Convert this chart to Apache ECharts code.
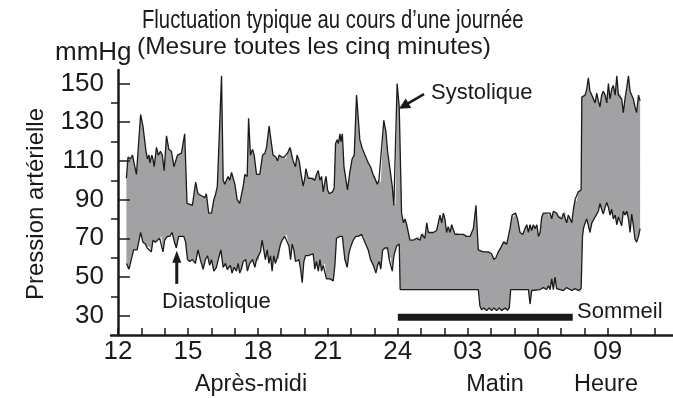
<!DOCTYPE html>
<html>
<head>
<meta charset="utf-8">
<script src="https://cdn.jsdelivr.net/npm/echarts@6/dist/echarts.min.js"></script>
<style>
  html, body { margin: 0; padding: 0; background: #fff; }
  #chart { width: 673px; height: 398px; }
</style>
</head>
<body>
<div id="chart"></div>
<script>
// Time is counted in hours from 12:00 (noon); 12 = midnight, 21 = 09:00 next morning.
const hourTicks = [0, 3, 6, 9, 12, 15, 18, 21];
const hourLabels = ['12', '15', '18', '21', '24', '03', '06', '09'];
const pressureMajor = [30, 50, 70, 90, 110, 130, 150];
const pressureMinor = [40, 60, 80, 100, 120, 140];

// Systolic readings [hour, mmHg]
const systolic = [
  [0.36,101],[0.43,112],[0.53,111],[0.62,113],[0.79,103],[0.97,134],[1.07,128],[1.19,116],[1.26,111],[1.33,113],
  [1.37,109],[1.45,113],[1.50,111],[1.55,107],[1.65,117],[1.73,113],[1.82,115],[1.90,113],[1.98,105],[2.08,123],
  [2.18,116],[2.29,115],[2.40,107],[2.55,113],[2.72,114],[2.86,124],[2.96,88],[3.19,87],[3.33,99],[3.43,93],
  [3.58,92],[3.72,91],[3.79,93],[3.89,83],[4.01,83],[4.11,90],[4.19,93],[4.26,97],[4.44,154],[4.51,100],
  [4.58,98],[4.65,100],[4.72,102],[4.79,100],[4.87,104],[5.01,98],[5.11,90],[5.22,88],[5.37,97],[5.44,103],
  [5.54,102],[5.60,132],[5.68,113],[5.77,116],[5.84,113],[5.94,103],[6.08,103],[6.20,113],[6.30,114],[6.37,117],
  [6.48,128],[6.58,119],[6.65,113],[6.77,112],[6.84,110],[6.91,113],[7.01,112],[7.13,112],[7.20,111],[7.27,114],
  [7.37,117],[7.44,116],[7.51,110],[7.61,107],[7.68,113],[7.77,110],[7.84,104],[7.94,97],[8.01,101],[8.06,106],
  [8.16,101],[8.23,102],[8.30,101],[8.37,102],[8.44,100],[8.51,103],[8.59,105],[8.66,100],[8.73,102],[8.80,94],
  [8.87,99],[8.92,102],[8.99,95],[9.06,93],[9.13,94],[9.20,94],[9.27,96],[9.33,119],[9.40,121],[9.45,119],
  [9.52,124],[9.56,120],[9.62,124],[9.69,107],[9.84,95],[9.94,104],[10.04,111],[10.13,113],[10.23,144],[10.37,121],
  [10.46,117],[10.59,113],[10.73,109],[10.83,107],[10.94,103],[11.02,102],[11.12,98],[11.19,100],[11.27,99],[11.40,131],
  [11.49,125],[11.56,115],[11.66,106],[11.76,97],[11.83,87],[11.90,88],[11.97,150],[12.06,138],[12.16,83],[12.24,78],
  [12.31,80],[12.38,77],[12.52,69],[12.66,69],[12.80,70],[12.88,71],[12.95,69],[13.02,72],[13.09,73],[13.16,70],
  [13.24,78],[13.31,73],[13.38,73],[13.52,73],[13.66,74],[13.81,82],[13.88,78],[13.95,83],[14.02,80],[14.09,73],
  [14.16,76],[14.24,73],[14.31,77],[14.45,72],[14.52,73],[14.67,72],[14.81,72],[14.95,71],[15.10,71],[15.24,75],
  [15.35,87],[15.45,64],[15.66,63],[15.88,63],[16.02,62],[16.12,59],[16.21,60],[16.31,63],[16.41,65],[16.53,68],
  [16.60,69],[16.67,67],[16.74,71],[16.81,75],[16.90,82],[16.97,81],[17.05,83],[17.13,80],[17.24,73],[17.36,72],
  [17.45,75],[17.53,77],[17.60,73],[17.67,77],[17.74,74],[17.81,77],[17.88,75],[17.96,77],[18.03,71],[18.10,73],
  [18.17,81],[18.24,83],[18.38,83],[18.46,82],[18.53,83],[18.60,80],[18.67,84],[18.74,83],[18.81,83],[18.89,81],
  [18.96,82],[19.03,80],[19.10,83],[19.17,84],[19.24,78],[19.31,82],[19.39,80],[19.46,78],[19.53,85],[19.60,90],
  [19.67,89],[19.74,94],[19.82,95],[19.86,95],[19.89,143],[19.96,143],[20.03,144],[20.10,147],[20.17,153],[20.24,146],
  [20.32,144],[20.39,143],[20.46,140],[20.53,145],[20.60,141],[20.67,138],[20.74,144],[20.81,146],[20.89,144],[20.96,140],
  [21.03,150],[21.10,142],[21.17,147],[21.24,149],[21.32,144],[21.39,154],[21.46,144],[21.53,145],[21.60,142],[21.67,135],
  [21.74,142],[21.82,148],[21.89,154],[21.96,146],[22.03,144],[22.10,142],[22.17,138],[22.24,135],[22.32,144],[22.39,141]
];

// Diastolic readings [hour, mmHg]
const diastolic = [
  [0.36,57],[0.47,54],[0.57,59],[0.67,64],[0.82,64],[0.97,73],[1.07,68],[1.17,67],[1.25,65],[1.33,66],
  [1.43,63],[1.50,69],[1.60,68],[1.69,69],[1.79,70],[1.86,71],[1.93,63],[2.00,69],[2.12,71],[2.22,71],
  [2.32,73],[2.40,69],[2.50,65],[2.60,71],[2.82,71],[2.90,68],[2.98,59],[3.08,58],[3.19,59],[3.32,57],
  [3.43,64],[3.53,59],[3.65,54],[3.75,59],[3.84,61],[3.93,56],[4.01,59],[4.11,53],[4.22,55],[4.32,60],
  [4.41,64],[4.51,55],[4.61,57],[4.68,54],[4.72,53],[4.82,56],[4.89,52],[4.98,55],[5.08,53],[5.15,57],
  [5.22,52],[5.29,54],[5.37,58],[5.48,59],[5.55,53],[5.65,57],[5.77,59],[5.87,55],[5.94,59],[6.01,58],
  [6.11,63],[6.18,69],[6.25,64],[6.32,59],[6.40,64],[6.47,57],[6.54,61],[6.61,53],[6.68,61],[6.75,57],
  [6.83,60],[6.90,59],[6.97,67],[7.04,69],[7.15,71],[7.23,72],[7.33,66],[7.40,59],[7.47,67],[7.54,64],
  [7.61,58],[7.68,59],[7.76,59],[7.83,54],[7.90,47],[7.97,58],[8.04,61],[8.16,61],[8.37,62],[8.44,54],
  [8.51,58],[8.59,53],[8.66,59],[8.73,53],[8.80,56],[8.87,57],[8.94,49],[9.09,49],[9.23,48],[9.30,56],
  [9.37,70],[9.52,71],[9.62,71],[9.73,59],[9.83,55],[9.90,62],[9.94,64],[10.02,67],[10.09,69],[10.20,71],
  [10.30,71],[10.45,72],[10.52,71],[10.62,67],[10.73,64],[10.83,59],[10.95,56],[11.06,52],[11.13,56],[11.20,58],
  [11.27,54],[11.35,64],[11.45,65],[11.52,64],[11.56,65],[11.63,59],[11.69,60],[11.76,53],[11.83,61],[11.95,66],
  [12.06,67],[12.10,43.5],[15.45,43.5],[15.52,35],[15.59,33],[15.69,34],[15.81,32.6],[15.92,34],[16.02,32.6],[16.12,34],
  [16.24,32.6],[16.35,34],[16.45,32.6],[16.60,34],[16.70,32.8],[16.78,34],[16.84,43.5],[17.60,43.5],[17.67,36],[17.74,43],
  [18.10,43.5],[18.24,44.5],[18.38,43.5],[18.46,45.5],[18.53,43.5],[18.60,49],[18.67,43.5],[18.74,50],[18.81,44],[19.10,43],
  [19.24,44.5],[19.46,43],[19.60,44],[19.74,43],[19.82,42],[19.86,44],[19.92,71],[19.96,75],[20.03,78],[20.10,80],
  [20.17,76.5],[20.24,73],[20.32,78],[20.39,79],[20.46,81],[20.53,82],[20.60,84],[20.67,88],[20.74,85],[20.81,82.5],
  [20.89,86],[20.96,88.5],[21.03,86],[21.10,82],[21.17,85],[21.24,80],[21.32,82],[21.39,77],[21.46,81],[21.53,80],
  [21.60,76.5],[21.67,84],[21.74,82],[21.82,84],[21.89,80],[21.96,73],[22.03,82.5],[22.10,76.5],[22.17,69.6],[22.24,68],
  [22.32,71],[22.39,75]
];

// Sleep period (hours from noon)
const sleepStart = 12;
const sleepEnd = 19.5;

const FONT = '"Liberation Sans", Arial, Helvetica, sans-serif';
const INK = '#1a1a1a';
const BAND = '#a2a2a5';

const chart = echarts.init(document.getElementById('chart'), null, { renderer: 'canvas' });

const hourly = Array.from({ length: 24 }, (_, i) => i);

chart.setOption({
  animation: false,
  textStyle: { fontFamily: FONT, color: INK },
  grid: { left: 111, right: 0, top: 70, bottom: 63, containLabel: false },
  xAxis: {
    type: 'value', min: -0.3, max: 23.8, z: 10,
    splitLine: { show: false },
    axisLine: { lineStyle: { color: INK, width: 2.5 } },
    axisTick: { inside: true, length: 7, customValues: hourly, lineStyle: { color: INK, width: 1.5 } },
    axisLabel: {
      customValues: hourTicks,
      formatter: v => hourLabels[hourTicks.indexOf(v)],
      fontSize: 26, color: INK, fontFamily: FONT, margin: 4
    }
  },
  yAxis: [
    {
      type: 'value', min: 20, max: 157, z: 10,
      splitLine: { show: false },
      axisLine: { show: true, lineStyle: { color: INK, width: 2.5 } },
      axisTick: { inside: true, length: 12, customValues: pressureMajor, lineStyle: { color: INK, width: 1.5 } },
      axisLabel: { customValues: pressureMajor, fontSize: 26, color: INK, fontFamily: FONT, margin: 7 }
    },
    {
      type: 'value', min: 20, max: 157, position: 'left', z: 10,
      splitLine: { show: false },
      axisLine: { show: false },
      axisTick: { inside: true, length: 7, customValues: pressureMinor, lineStyle: { color: INK, width: 1.5 } },
      axisLabel: { show: false }
    }
  ],
  series: [
    {
      name: 'band', type: 'custom', silent: true, z: 1, clip: false,
      data: [[0, 30]],
      renderItem: (params, api) => {
        const pts = systolic.map(p => api.coord(p))
          .concat(diastolic.slice().reverse().map(p => api.coord(p)));
        return { type: 'polygon', shape: { points: pts }, style: { fill: BAND } };
      }
    },
    {
      name: 'Systolique', type: 'line', data: systolic, showSymbol: false, z: 3,
      lineStyle: { color: INK, width: 1.3 }
    },
    {
      name: 'Diastolique', type: 'line', data: diastolic, showSymbol: false, z: 3,
      lineStyle: { color: INK, width: 1.3 }
    },
    {
      name: 'Sommeil', type: 'line', data: [[sleepStart, 29.2], [sleepEnd, 29.2]], showSymbol: false, z: 4,
      lineStyle: { color: INK, width: 7, cap: 'butt' }
    }
  ]
});

// Arrow helper: shaft from tail to tip with a filled head
function arrow(tail, tip, width, headLen, headHalf) {
  const dx = tip[0] - tail[0], dy = tip[1] - tail[1];
  const len = Math.hypot(dx, dy);
  const ux = dx / len, uy = dy / len;
  const bx = tip[0] - ux * headLen, by = tip[1] - uy * headLen;
  const px = -uy, py = ux;
  return [
    { type: 'line', shape: { x1: tail[0], y1: tail[1], x2: bx + ux, y2: by + uy },
      style: { stroke: INK, lineWidth: width }, z: 20 },
    { type: 'polygon', shape: { points: [tip, [bx + px * headHalf, by + py * headHalf], [bx - px * headHalf, by - py * headHalf]] },
      style: { fill: INK }, z: 20 }
  ];
}

const sysTip = chart.convertToPixel({ gridIndex: 0 }, [12.05, 137]);
const diaTip = chart.convertToPixel({ gridIndex: 0 }, [2.52, 63.5]);

// Text placed at (x, y); optional horizontal squeeze via scaleX
const txt = (text, x, y, size, align, extra) => Object.assign({
  type: 'text', z: 30, x, y,
  style: { text, x: 0, y: 0, fontSize: size, fontFamily: FONT, fill: INK, textAlign: align || 'left', textVerticalAlign: 'middle' }
}, extra || {});

chart.setOption({
  graphic: [
    txt('Fluctuation typique au cours d\u2019une journée', 142, 21, 25, 'left', { scaleX: 0.81 }),
    txt('mmHg', 55, 53, 26),
    txt('(Mesure toutes les cinq minutes)', 137, 47, 24.5),
    txt('Pression artérielle', 36, 204, 24, 'center', { rotation: Math.PI / 2 }),
    txt('Systolique', 431, 93, 22),
    txt('Diastolique', 162, 302, 22),
    txt('Sommeil', 577, 312, 22),
    txt('Après-midi', 251, 385, 23.5, 'center'),
    txt('Matin', 495, 385, 23.5, 'center'),
    txt('Heure', 606, 385, 23.5, 'center'),
    ...arrow([sysTip[0] + 25, sysTip[1] - 14.5], sysTip, 2.5, 11, 5.5),
    ...arrow([diaTip[0], diaTip[1] + 33], diaTip, 3, 12, 4.5)
  ]
});
</script>
</body>
</html>
